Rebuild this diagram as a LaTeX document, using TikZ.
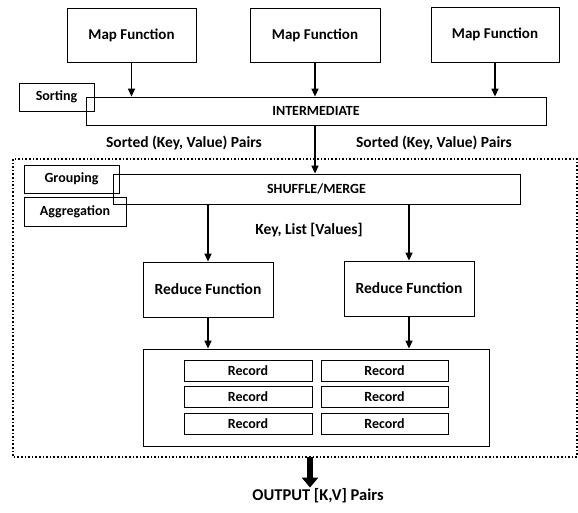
\documentclass[tikz,border=0pt]{standalone}
\usepackage{fontspec}
\setmainfont{Carlito}
\usetikzlibrary{arrows.meta}
\begin{document}
\begin{tikzpicture}[x=1pt,y=-1pt,
  box/.style={draw,line width=0.8pt,inner sep=0pt,font=\bfseries},
  bigtxt/.style={font=\fontsize{15}{17}\selectfont\bfseries},
  redtxt/.style={font=\fontsize{15.5}{17}\selectfont\bfseries},
  midtxt/.style={font=\fontsize{15.5}{17}\selectfont\bfseries},
  outtxt/.style={font=\fontsize{16.5}{19}\selectfont\bfseries},
  smalltxt/.style={font=\fontsize{14}{16}\selectfont\bfseries},
  rectxt/.style={font=\fontsize{14}{16}\selectfont\bfseries},
  arr/.style={line width=1.4pt,-{Triangle[length=8pt,width=7pt]}},
  fatarr/.style={line width=6pt,-{Triangle[length=10pt,width=16pt]}},
  dotbox/.style={line width=1.6pt,dotted}
]
\useasboundingbox (0,0) rectangle (578,512);
% map functions
\node[box,bigtxt,minimum width=129pt,minimum height=54pt] (m1) at (131.5,35) {Map Function};
\node[box,bigtxt,minimum width=130pt,minimum height=54pt] (m2) at (315,35) {Map Function};
\node[box,bigtxt,minimum width=128pt,minimum height=55pt] (m3) at (495,34.5) {Map Function};
% intermediate
\node[box,smalltxt,minimum width=460pt,minimum height=28pt] (inter) at (316,111) {INTERMEDIATE};
\node[box,rectxt,minimum width=75pt,minimum height=28pt] (sort) at (56.5,97) {Sorting};
\node[midtxt] (skv1) at (184,143) {Sorted (Key, Value) Pairs};
\node[midtxt] (skv2) at (434,143) {Sorted (Key, Value) Pairs};
% dotted region
\draw[dotbox] (13,159) rectangle (577,457);
\coordinate (dotb) at (310,457);
% shuffle
\node[box,smalltxt,minimum width=407pt,minimum height=30pt] (shuf) at (316.5,189) {SHUFFLE/MERGE};
\node[box,rectxt,minimum width=95pt,minimum height=28pt] (grp) at (71.5,179) {Grouping};
\node[box,rectxt,minimum width=102pt,minimum height=29pt] (agg) at (75,211.5) {Aggregation};
\node[midtxt] (klv) at (309,230) {Key, List [Values]};
% reduce
\node[box,redtxt,minimum width=130pt,minimum height=55pt] (r1) at (208,289.5) {Reduce Function};
\node[box,redtxt,minimum width=130pt,minimum height=55pt] (r2) at (409,288.5) {Reduce Function};
% records
\node[box,minimum width=346pt,minimum height=97pt] (big) at (316,397.5) {};
\node[box,rectxt,minimum width=128pt,minimum height=21pt] (a1) at (248,370.5) {Record};
\node[box,rectxt,minimum width=127pt,minimum height=21pt] (b1) at (384.5,370.5) {Record};
\node[box,rectxt,minimum width=128pt,minimum height=21pt] (a2) at (248,396.5) {Record};
\node[box,rectxt,minimum width=127pt,minimum height=21pt] (b2) at (384.5,396.5) {Record};
\node[box,rectxt,minimum width=128pt,minimum height=21pt] (a3) at (248,423.5) {Record};
\node[box,rectxt,minimum width=127pt,minimum height=21pt] (b3) at (384.5,423.5) {Record};
% output
\node[outtxt,inner sep=1pt] (out) at (318,496) {OUTPUT [K,V] Pairs};
% arrows
\draw[arr] (m1.south) -- (m1.south |- inter.north);
\draw[arr] (m2.south) -- (m2.south |- inter.north);
\draw[arr] (m3.south) -- (m3.south |- inter.north);
\draw[arr] (m2.south |- inter.south) -- (m2.south |- shuf.north);
\draw[arr] (r1.north |- shuf.south) -- (r1.north);
\draw[arr] (r2.north |- shuf.south) -- (r2.north);
\draw[arr] (r1.south) -- (r1.south |- big.north);
\draw[arr] (r2.south) -- (r2.south |- big.north);
\draw[fatarr] (dotb) -- (dotb |- out.north);
\end{tikzpicture}
\end{document}
